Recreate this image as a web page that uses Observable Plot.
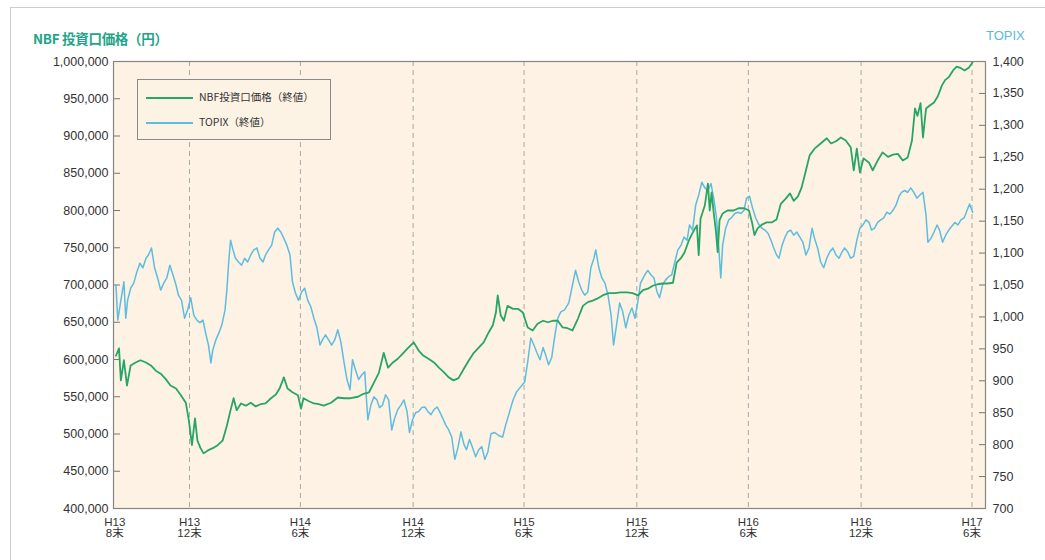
<!DOCTYPE html>
<html><head><meta charset="utf-8">
<script src="https://cdn.jsdelivr.net/npm/d3@7"></script>
<script src="https://cdn.jsdelivr.net/npm/@observablehq/plot@0.6"></script>
<style>
body{margin:0;background:#fff;font-family:"Liberation Sans",Arial,"Noto Sans CJK JP",sans-serif;}
#wrap{position:relative;width:1045px;height:560px;overflow:hidden;background:#fff;}
#border{position:absolute;left:10px;top:7px;width:1100px;height:600px;border-left:1px solid #c5cfcf;border-top:1px solid #c5cfcf;}
#title{position:absolute;left:33px;top:28px;font-size:13.5px;font-weight:bold;color:#1ea487;font-family:"Noto Sans CJK JP","Liberation Sans",sans-serif;letter-spacing:-0.3px;}
#topixLabel{position:absolute;left:986px;top:28px;font-size:13px;color:#5bb9dc;font-family:"Liberation Sans",Arial,sans-serif;}
#chart{position:absolute;left:0;top:48px;}
#legend{position:absolute;left:137px;top:79px;width:192px;height:59px;border:1px solid #8a8a8a;background:#fdf3e5;font-family:"Noto Sans CJK JP",sans-serif;font-size:10.5px;color:#333;}
.li{position:absolute;left:8px;height:2px;width:47px;}
.lt{position:absolute;left:61px;white-space:nowrap;}
</style></head>
<body>
<div id="wrap">
  <div id="border"></div>
  <div id="title">NBF 投資口価格（円）</div>
  <div id="topixLabel">TOPIX</div>
  <div id="chart"></div>
  <div id="legend">
    <div class="li" style="top:17px;background:#27a566"></div>
    <div class="lt" style="top:9px">NBF投資口価格（終値）</div>
    <div class="li" style="top:42px;background:#5cbde0"></div>
    <div class="lt" style="top:34px">TOPIX（終値）</div>
  </div>
</div>
<script>
// ---- data ----
const nbfDates = [
"2001-09-02","2001-09-07","2001-09-10","2001-09-15","2001-09-20","2001-09-26","2001-10-04","2001-10-12","2001-10-21","2001-10-29","2001-11-06","2001-11-14","2001-11-22","2001-11-30","2001-12-09","2001-12-17","2001-12-25","2001-12-30",
"2002-01-04","2002-01-09","2002-01-13","2002-01-18","2002-01-23","2002-01-30","2002-02-07","2002-02-15","2002-02-23","2002-03-02","2002-03-08","2002-03-13","2002-03-18","2002-03-25","2002-04-02","2002-04-10","2002-04-18","2002-04-26","2002-05-04","2002-05-13","2002-05-21","2002-05-27","2002-06-03","2002-06-09","2002-06-17","2002-06-26","2002-07-01","2002-07-05","2002-07-14","2002-07-22","2002-07-30","2002-08-07","2002-08-19","2002-08-30","2002-09-09","2002-09-20","2002-10-02","2002-10-11","2002-10-20","2002-10-28","2002-11-05","2002-11-13","2002-11-20","2002-11-28","2002-12-06","2002-12-14","2002-12-22",
"2003-01-01","2003-01-09","2003-01-17","2003-01-25","2003-02-03","2003-02-11","2003-02-19","2003-02-27","2003-03-07","2003-03-15","2003-03-24","2003-04-01","2003-04-09","2003-04-17","2003-04-25","2003-05-03","2003-05-10","2003-05-15","2003-05-18","2003-05-23","2003-05-28","2003-06-03","2003-06-12","2003-06-20","2003-06-28","2003-07-06","2003-07-14","2003-07-22","2003-07-31","2003-08-08","2003-08-16","2003-08-24","2003-09-01","2003-09-09","2003-09-17","2003-09-26","2003-10-04","2003-10-12","2003-10-20","2003-10-28","2003-11-05","2003-11-15","2003-11-25","2003-12-05","2003-12-15","2003-12-24",
"2004-01-02","2004-01-10","2004-01-18","2004-01-26","2004-02-03","2004-02-11","2004-02-19","2004-02-28","2004-03-05","2004-03-12","2004-03-18","2004-03-25","2004-03-31","2004-04-07","2004-04-10","2004-04-13","2004-04-20","2004-04-25","2004-04-28","2004-05-01","2004-05-05","2004-05-08","2004-05-11","2004-05-14","2004-05-19","2004-05-27","2004-06-06","2004-06-14","2004-06-23","2004-07-01","2004-07-06","2004-07-10","2004-07-15","2004-07-22","2004-07-30","2004-08-07","2004-08-15","2004-08-22","2004-08-30","2004-09-06","2004-09-12","2004-09-19","2004-09-25","2004-10-02","2004-10-08","2004-10-16","2004-10-26","2004-11-05","2004-11-12","2004-11-20","2004-11-28","2004-12-06","2004-12-14","2004-12-19","2004-12-24","2004-12-29",
"2005-01-04","2005-01-13","2005-01-19","2005-01-27","2005-02-04","2005-02-13","2005-02-21","2005-03-01","2005-03-09","2005-03-17","2005-03-24","2005-03-29","2005-04-02","2005-04-07","2005-04-11","2005-04-16","2005-04-22","2005-04-29","2005-05-05","2005-05-12","2005-05-17","2005-05-23","2005-05-30","2005-06-05","2005-06-12","2005-06-18","2005-06-25","2005-07-01"
];
const nbfValues = [
605000,615000,572000,599000,565000,592000,596000,599000,596000,592000,585000,581000,574000,565000,561000,552000,542000,518000,
485000,521000,491000,481000,474000,478000,481000,485000,491000,511000,532000,548000,532000,541000,538000,542000,537000,540000,541000,548000,553000,561000,576000,561000,556000,552000,534000,548000,544000,541000,540000,538000,542000,549000,548000,548000,550000,554000,556000,569000,582000,609000,589000,596000,601000,608000,615000,
623000,612000,605000,601000,596000,589000,583000,576000,572000,575000,588000,599000,609000,616000,623000,636000,646000,663000,686000,659000,652000,672000,668000,668000,663000,643000,639000,648000,652000,650000,652000,652000,643000,642000,639000,655000,672000,677000,679000,682000,686000,689000,689000,690000,690000,689000,
686000,693000,695000,699000,701000,702000,702000,703000,730000,736000,744000,760000,770000,780000,740000,789000,807000,836000,800000,824000,793000,773000,744000,787000,796000,800000,800000,803000,803000,800000,784000,767000,776000,781000,784000,784000,788000,809000,816000,823000,813000,819000,831000,854000,874000,883000,890000,897000,890000,893000,898000,894000,885000,854000,883000,851000,
870000,864000,854000,867000,878000,872000,875000,876000,867000,871000,894000,937000,927000,944000,898000,937000,941000,945000,953000,968000,975000,979000,988000,993000,991000,988000,992000,999000
];
const topixDates = [
"2001-09-02","2001-09-05","2001-09-10","2001-09-15","2001-09-18","2001-09-21","2001-09-26","2001-10-01","2001-10-06","2001-10-11","2001-10-16","2001-10-21","2001-10-25","2001-10-30","2001-11-04","2001-11-09","2001-11-14","2001-11-19","2001-11-24","2001-11-29","2001-12-04","2001-12-09","2001-12-13","2001-12-18","2001-12-23","2001-12-28",
"2002-01-02","2002-01-07","2002-01-12","2002-01-17","2002-01-22","2002-01-27","2002-01-31","2002-02-04","2002-02-07","2002-02-12","2002-02-17","2002-02-22","2002-02-27","2002-03-02","2002-03-05","2002-03-08","2002-03-12","2002-03-16","2002-03-21","2002-03-26","2002-03-31","2002-04-05","2002-04-10","2002-04-15","2002-04-20","2002-04-25","2002-04-30","2002-05-04","2002-05-09","2002-05-14","2002-05-19","2002-05-24","2002-05-29","2002-06-03","2002-06-08","2002-06-13","2002-06-17","2002-06-22","2002-06-27","2002-07-02","2002-07-07","2002-07-12","2002-07-17","2002-07-22","2002-07-27","2002-08-01","2002-08-05","2002-08-10","2002-08-15","2002-08-20","2002-08-25","2002-08-30","2002-09-04","2002-09-09","2002-09-14","2002-09-19","2002-09-23","2002-09-28","2002-10-03","2002-10-08","2002-10-13","2002-10-18","2002-10-23","2002-10-28","2002-11-02","2002-11-06","2002-11-11","2002-11-16","2002-11-21","2002-11-26","2002-12-01","2002-12-06","2002-12-11","2002-12-16","2002-12-21","2002-12-25","2002-12-30",
"2003-01-04","2003-01-09","2003-01-14","2003-01-19","2003-01-24","2003-01-29","2003-02-03","2003-02-08","2003-02-12","2003-02-17","2003-02-22","2003-02-27","2003-03-04","2003-03-09","2003-03-14","2003-03-19","2003-03-24","2003-03-28","2003-04-02","2003-04-07","2003-04-12","2003-04-17","2003-04-22","2003-04-27","2003-05-02","2003-05-07","2003-05-13","2003-05-20","2003-05-26","2003-05-31","2003-06-05","2003-06-12","2003-06-18","2003-06-25","2003-07-01","2003-07-06","2003-07-11","2003-07-16","2003-07-21","2003-07-26","2003-07-31","2003-08-04","2003-08-09","2003-08-14","2003-08-19","2003-08-24","2003-08-29","2003-09-04","2003-09-11","2003-09-17","2003-09-22","2003-09-27","2003-10-02","2003-10-07","2003-10-12","2003-10-17","2003-10-22","2003-10-25","2003-10-30","2003-11-04","2003-11-09","2003-11-14","2003-11-19","2003-11-23","2003-11-28","2003-12-03","2003-12-08","2003-12-13","2003-12-18","2003-12-23","2003-12-28",
"2004-01-02","2004-01-06","2004-01-13","2004-01-18","2004-01-23","2004-01-28","2004-02-02","2004-02-06","2004-02-11","2004-02-16","2004-02-21","2004-02-26","2004-03-02","2004-03-07","2004-03-12","2004-03-17","2004-03-22","2004-03-26","2004-03-31","2004-04-05","2004-04-10","2004-04-15","2004-04-20","2004-04-25","2004-04-30","2004-05-05","2004-05-09","2004-05-13","2004-05-16","2004-05-19","2004-05-24","2004-05-29","2004-06-03","2004-06-08","2004-06-13","2004-06-18","2004-06-23","2004-06-27","2004-07-02","2004-07-07","2004-07-12","2004-07-17","2004-07-22","2004-07-27","2004-08-01","2004-08-06","2004-08-10","2004-08-15","2004-08-19","2004-08-24","2004-08-28","2004-09-02","2004-09-07","2004-09-12","2004-09-17","2004-09-22","2004-09-27","2004-10-02","2004-10-07","2004-10-12","2004-10-16","2004-10-21","2004-10-26","2004-10-31","2004-11-05","2004-11-10","2004-11-15","2004-11-20","2004-11-25","2004-11-30","2004-12-04","2004-12-09","2004-12-14","2004-12-19","2004-12-24","2004-12-29",
"2005-01-03","2005-01-08","2005-01-13","2005-01-17","2005-01-22","2005-01-27","2005-02-01","2005-02-06","2005-02-11","2005-02-16","2005-02-21","2005-02-26","2005-03-03","2005-03-07","2005-03-12","2005-03-17","2005-03-22","2005-03-27","2005-04-01","2005-04-06","2005-04-11","2005-04-16","2005-04-19","2005-04-24","2005-04-29","2005-05-04","2005-05-08","2005-05-13","2005-05-18","2005-05-23","2005-05-28","2005-06-02","2005-06-07","2005-06-12","2005-06-17","2005-06-22","2005-06-26","2005-07-01"
];
const topixValues = [
1050,995,1026,1055,998,1026,1045,1053,1070,1084,1077,1092,1097,1108,1077,1061,1042,1053,1061,1081,1066,1050,1034,1026,998,1011,
1030,1003,995,991,995,972,956,928,948,964,975,988,1011,1042,1086,1120,1105,1092,1086,1081,1092,1086,1097,1105,1108,1092,1086,1097,1105,1112,1133,1139,1133,1123,1112,1097,1055,1037,1026,1039,1045,1026,1016,998,983,956,964,972,964,956,964,980,961,930,902,886,933,917,902,909,914,839,862,875,870,858,862,878,870,823,842,855,862,870,852,819,839,
850,852,858,859,852,847,855,859,852,842,831,823,812,777,795,820,800,792,808,795,781,792,797,777,789,817,819,814,812,831,847,870,883,891,898,930,967,956,944,933,952,941,925,936,969,998,1008,1011,1022,1050,1073,1055,1042,1034,1039,1077,1092,1105,1077,1061,1053,1034,1003,956,988,1022,1008,983,1003,1014,998,
1026,1053,1066,1073,1066,1061,1039,1030,1050,1058,1063,1066,1086,1105,1112,1125,1120,1144,1136,1175,1191,1211,1202,1198,1209,1183,1155,1105,1061,1112,1139,1152,1156,1162,1164,1162,1167,1186,1189,1170,1155,1145,1139,1136,1131,1120,1109,1097,1092,1112,1123,1133,1136,1128,1133,1125,1117,1097,1108,1139,1123,1108,1086,1077,1092,1102,1108,1097,1092,1102,1108,1102,1092,1095,1120,1139,
1144,1152,1148,1136,1139,1148,1152,1155,1164,1161,1167,1175,1189,1195,1198,1195,1202,1195,1186,1191,1195,1159,1117,1123,1133,1144,1136,1117,1128,1136,1142,1148,1144,1152,1155,1167,1177,1164
];
const tickDates = ["2001-08-31","2001-12-31","2002-06-30","2002-12-31","2003-06-30","2003-12-31","2004-06-30","2004-12-31","2005-06-30"];
const tickLabels = ["H13\n8末","H13\n12末","H14\n6末","H14\n12末","H15\n6末","H15\n12末","H16\n6末","H16\n12末","H17\n6末"];
const nbfTicks = [400000,450000,500000,550000,600000,650000,700000,750000,800000,850000,900000,950000,1000000];
const topixTicks = [700,750,800,850,900,950,1000,1050,1100,1150,1200,1250,1300,1350,1400];
const xDomain = ["2001-08-29","2005-07-22"];

// ---- build ----
const parse = d3.utcParse("%Y-%m-%d");
const nbf = nbfDates.map((d, i) => ({date: parse(d), value: nbfValues[i]}));
const topix = topixDates.map((d, i) => ({date: parse(d), value: topixValues[i]}));
const ticks = tickDates.map(parse);
const labelOf = new Map(ticks.map((d, i) => [+d, tickLabels[i]]));
const yMin = nbfTicks[0], yMax = nbfTicks[nbfTicks.length - 1];
const tMin = topixTicks[0], tMax = topixTicks[topixTicks.length - 1];
const toY = t => yMin + (t - tMin) * (yMax - yMin) / (tMax - tMin);
const fromY = y => tMin + (y - yMin) * (tMax - tMin) / (yMax - yMin);
const fmt = d3.format(",");

const chart = Plot.plot({
  width: 1045, height: 512,
  marginTop: 13, marginBottom: 52, marginLeft: 113, marginRight: 60,
  style: {fontFamily: '"Liberation Sans", Arial, "Noto Sans CJK JP", sans-serif', fontSize: "12px", color: "#333", background: "transparent"},
  x: {type: "utc", domain: xDomain.map(parse)},
  y: {domain: [yMin, yMax]},
  marks: [
    Plot.frame({fill: "#fdf2e3", stroke: null}),
    Plot.ruleX(ticks.slice(1), {stroke: "#a8a8a8", strokeDasharray: "5,4", strokeWidth: 1}),
    Plot.axisY(nbfTicks, {anchor: "left", tickSize: -7, tickPadding: 12, tickFormat: fmt, label: null, stroke: "#777", fontSize: 12.5}),
    Plot.axisY(topixTicks.map(toY), {anchor: "right", tickSize: -7, tickPadding: 14, tickFormat: v => fmt(Math.round(fromY(v))), label: null, stroke: "#777", fontSize: 12.5}),
    Plot.axisX(ticks, {anchor: "bottom", tickSize: 0, tickPadding: 10, tickFormat: d => labelOf.get(+d), label: null, fontSize: 11.5, lineHeight: 0.95, fontFamily: '"Liberation Sans", "Noto Sans CJK JP", sans-serif'}),
    Plot.line(topix, {x: "date", y: d => toY(d.value), stroke: "#5cbde0", strokeWidth: 1.5}),
    Plot.line(nbf, {x: "date", y: "value", stroke: "#27a566", strokeWidth: 1.8}),
    Plot.frame({stroke: "#858585", strokeWidth: 1.2})
  ]
});
document.getElementById("chart").appendChild(chart);
</script>
</body></html>
